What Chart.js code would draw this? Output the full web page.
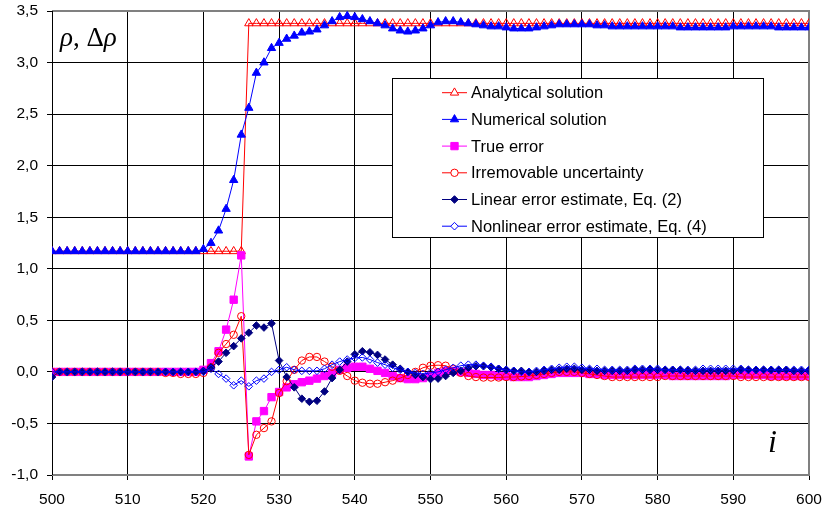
<!DOCTYPE html>
<html lang="en">
<head>
<meta charset="UTF-8">
<title>rho and error estimates</title>
<script src="https://cdn.jsdelivr.net/npm/chart.js"></script>
<style>
  body { margin: 0; background: #fff; }
  #wrap { position: relative; width: 824px; height: 511px; }
  .lbl { position: absolute; font-family: "Liberation Serif", "DejaVu Serif", serif; color: #000; line-height: 1; white-space: nowrap; }
  #ylbl { left: 60px; top: 24px; font-size: 27px; }
  #xlbl { left: 768px; top: 425px; font-size: 32px; font-style: italic; }
</style>
</head>
<body>
<div id="wrap">
  <canvas id="myChart" width="824" height="511"></canvas>
  <div class="lbl" id="ylbl"><i>ρ</i>,&nbsp;Δ<i>ρ</i></div>
  <div class="lbl" id="xlbl">i</div>
</div>

<script>
// grid index i
var iValues = [
  500, 501, 502, 503, 504, 505, 506, 507, 508, 509,
  510, 511, 512, 513, 514, 515, 516, 517, 518, 519,
  520, 521, 522, 523, 524, 525, 526, 527, 528, 529,
  530, 531, 532, 533, 534, 535, 536, 537, 538, 539,
  540, 541, 542, 543, 544, 545, 546, 547, 548, 549,
  550, 551, 552, 553, 554, 555, 556, 557, 558, 559,
  560, 561, 562, 563, 564, 565, 566, 567, 568, 569,
  570, 571, 572, 573, 574, 575, 576, 577, 578, 579,
  580, 581, 582, 583, 584, 585, 586, 587, 588, 589,
  590, 591, 592, 593, 594, 595, 596, 597, 598, 599,
  600
];

var analytical = [
  1.17, 1.17, 1.17, 1.17, 1.17, 1.17, 1.17, 1.17, 1.17, 1.17,
  1.17, 1.17, 1.17, 1.17, 1.17, 1.17, 1.17, 1.17, 1.17, 1.17,
  1.17, 1.17, 1.17, 1.17, 1.17, 1.17, 3.38, 3.38, 3.38, 3.38,
  3.38, 3.38, 3.38, 3.38, 3.38, 3.38, 3.38, 3.38, 3.38, 3.38,
  3.38, 3.38, 3.38, 3.38, 3.38, 3.38, 3.38, 3.38, 3.38, 3.38,
  3.38, 3.38, 3.38, 3.38, 3.38, 3.38, 3.38, 3.38, 3.38, 3.38,
  3.38, 3.38, 3.38, 3.38, 3.38, 3.38, 3.38, 3.38, 3.38, 3.38,
  3.38, 3.38, 3.38, 3.38, 3.38, 3.38, 3.38, 3.38, 3.38, 3.38,
  3.38, 3.38, 3.38, 3.38, 3.38, 3.38, 3.38, 3.38, 3.38, 3.38,
  3.38, 3.38, 3.38, 3.38, 3.38, 3.38, 3.38, 3.38, 3.38, 3.38,
  3.38
];

var numerical = [
  1.17, 1.17, 1.17, 1.17, 1.17, 1.17, 1.17, 1.17, 1.17, 1.17,
  1.17, 1.17, 1.17, 1.17, 1.17, 1.17, 1.17, 1.17, 1.17, 1.17,
  1.19, 1.25, 1.37, 1.58, 1.86, 2.30, 2.56, 2.90, 3.00, 3.14,
  3.19, 3.23, 3.26, 3.29, 3.30, 3.32, 3.36, 3.40, 3.44, 3.45,
  3.44, 3.42, 3.40, 3.38, 3.36, 3.33, 3.31, 3.30, 3.31, 3.33,
  3.36, 3.39, 3.40, 3.40, 3.39, 3.38, 3.37, 3.36, 3.35, 3.35,
  3.34, 3.33, 3.33, 3.33, 3.34, 3.35, 3.36, 3.37, 3.37, 3.37,
  3.37, 3.37, 3.36, 3.36, 3.35, 3.35, 3.35, 3.35, 3.35, 3.35,
  3.35, 3.35, 3.35, 3.34, 3.34, 3.34, 3.34, 3.34, 3.34, 3.34,
  3.35, 3.35, 3.35, 3.35, 3.35, 3.35, 3.34, 3.34, 3.34, 3.34,
  3.34
];

var trueError = [
  0, 0, 0, 0, 0, 0, 0, 0, 0, 0,
  0, 0, 0, 0, 0, 0, 0, 0, 0, 0,
  0.02, 0.085, 0.20, 0.41, 0.70, 1.13, -0.82, -0.48, -0.38, -0.245,
  -0.195, -0.15, -0.12, -0.10, -0.085, -0.065, -0.04, -0.01, 0.02, 0.04,
  0.05, 0.05, 0.03, 0.01, -0.01, -0.04, -0.06, -0.07, -0.07, -0.06,
  -0.04, -0.01, 0.01, 0.01, 0, -0.01, -0.02, -0.03, -0.03, -0.04,
  -0.04, -0.05, -0.05, -0.05, -0.04, -0.03, -0.02, -0.01, -0.01, -0.01,
  -0.01, -0.02, -0.02, -0.03, -0.03, -0.03, -0.03, -0.03, -0.03, -0.03,
  -0.03, -0.03, -0.04, -0.04, -0.04, -0.04, -0.04, -0.04, -0.04, -0.04,
  -0.03, -0.03, -0.03, -0.03, -0.03, -0.04, -0.04, -0.04, -0.04, -0.04,
  -0.04
];

var irremovable = [
  0, 0, 0, 0, 0, 0, 0, 0, 0, 0,
  0, 0, 0, 0, 0, -0.01, -0.01, -0.02, -0.02, -0.02,
  -0.01, 0.045, 0.185, 0.27, 0.36, 0.54, -0.805, -0.61, -0.545, -0.48,
  -0.205, -0.09, 0.02, 0.11, 0.145, 0.145, 0.10, 0.05, 0.01, -0.04,
  -0.085, -0.105, -0.115, -0.115, -0.10, -0.085, -0.06, -0.03, 0, 0.04,
  0.06, 0.065, 0.06, 0.03, -0.01, -0.04, -0.05, -0.055, -0.055, -0.055,
  -0.05, -0.05, -0.045, -0.04, -0.03, -0.02, -0.01, 0, 0, 0,
  -0.01, -0.02, -0.03, -0.04, -0.05, -0.05, -0.05, -0.05, -0.05, -0.05,
  -0.05, -0.04, -0.04, -0.04, -0.04, -0.04, -0.04, -0.04, -0.04, -0.04,
  -0.04, -0.05, -0.05, -0.05, -0.05, -0.05, -0.05, -0.05, -0.05, -0.05,
  -0.05
];

var linearEst = [
  -0.05, 0, 0, 0, 0, 0, 0, 0, 0, 0,
  0, 0, 0, 0, 0, 0, 0, 0, 0, 0,
  0.01, 0.045, 0.10, 0.185, 0.25, 0.325, 0.38, 0.45, 0.43, 0.47,
  0.11, -0.05, -0.15, -0.26, -0.29, -0.28, -0.19, -0.06, 0.02, 0.10,
  0.17, 0.20, 0.19, 0.165, 0.12, 0.07, 0.03, 0, -0.03, -0.05,
  -0.07, -0.065, -0.04, -0.01, 0.01, 0.04, 0.055, 0.055, 0.045, 0.03,
  0.02, 0.01, 0.01, 0, 0, 0.01, 0.02, 0.02, 0.03, 0.03,
  0.02, 0.02, 0.01, 0.01, 0.01, 0.01, 0.01, 0.02, 0.02, 0.02,
  0.02, 0.02, 0.02, 0.02, 0.01, 0.01, 0.01, 0.01, 0.01, 0.01,
  0.01, 0.02, 0.02, 0.02, 0.02, 0.02, 0.02, 0.02, 0.01, 0.01,
  0.01
];

var nonlinearEst = [
  0, 0, 0, 0, 0, 0, 0, 0, 0, 0,
  0, 0, 0, 0, 0, 0, 0, 0, 0, 0,
  0, 0.03, -0.02, -0.065, -0.13, -0.085, -0.14, -0.085, -0.065, 0,
  0.02, 0.045, 0.02, 0.01, 0.01, 0.01, 0.03, 0.07, 0.10, 0.12,
  0.135, 0.14, 0.12, 0.09, 0.07, 0.04, 0.02, 0, -0.01, -0.02,
  -0.01, 0, 0.02, 0.04, 0.06, 0.07, 0.07, 0.06, 0.05, 0.03,
  0.02, 0.01, 0, 0, 0.01, 0.02, 0.03, 0.04, 0.05, 0.05,
  0.04, 0.03, 0.03, 0.02, 0.02, 0.02, 0.02, 0.03, 0.03, 0.03,
  0.03, 0.02, 0.02, 0.02, 0.02, 0.02, 0.03, 0.03, 0.03, 0.03,
  0.03, 0.03, 0.02, 0.02, 0.02, 0.02, 0.02, 0.02, 0.02, 0.02,
  0.02
];

var seriesNames = [
  'Analytical solution',
  'Numerical solution',
  'True error',
  'Irremovable uncertainty',
  'Linear error estimate, Eq. (2)',
  'Nonlinear error estimate, Eq. (4)'
];

var xTicks = { min: 500, max: 600, step: 10 };
var yTicks = { min: -1.0, max: 3.5, step: 0.5 };

function toPoints(ys) {
  return ys.map(function (y, k) { return { x: iValues[k], y: y }; });
}

var seriesStyle = [
  { data: analytical,   color: '#FF0000', fill: 'rgba(0,0,0,0)', shape: 'triangle', r: 4.8 },
  { data: numerical,    color: '#0000FF', fill: '#0000FF',       shape: 'triangle', r: 4.8 },
  { data: trueError,    color: '#FF00FF', fill: '#FF00FF',       shape: 'rect',     r: 5.2 },
  { data: irremovable,  color: '#FF0000', fill: 'rgba(0,0,0,0)', shape: 'circle',   r: 3.7 },
  { data: linearEst,    color: '#000080', fill: '#000080',       shape: 'rectRot',  r: 3.8 },
  { data: nonlinearEst, color: '#0000FF', fill: 'rgba(0,0,0,0)', shape: 'rectRot',  r: 3.8 }
];

var datasets = seriesStyle.map(function (s, k) {
  return {
    label: seriesNames[k],
    data: toPoints(s.data),
    borderColor: s.color,
    borderWidth: 1,
    pointStyle: s.shape,
    pointRadius: s.r,
    pointHoverRadius: s.r,
    pointBorderColor: s.color,
    pointBackgroundColor: s.fill,
    pointBorderWidth: 1,
    tension: 0,
    order: 6 - k   // later series sit on top, like Excel
  };
});

function drawMarker(ctx, shape, r, x, y, fill, stroke) {
  ctx.beginPath();
  if (shape === 'triangle') {
    ctx.moveTo(x, y - r);
    ctx.lineTo(x + r * 0.866, y + r / 2);
    ctx.lineTo(x - r * 0.866, y + r / 2);
    ctx.closePath();
  } else if (shape === 'rect') {
    var s = r * Math.SQRT1_2;
    ctx.rect(x - s, y - s, 2 * s, 2 * s);
  } else if (shape === 'rectRot') {
    ctx.moveTo(x, y - r); ctx.lineTo(x + r, y); ctx.lineTo(x, y + r); ctx.lineTo(x - r, y);
    ctx.closePath();
  } else {
    ctx.arc(x, y, r, 0, Math.PI * 2);
  }
  ctx.fillStyle = fill;
  ctx.fill();
  ctx.strokeStyle = stroke;
  ctx.lineWidth = 1;
  ctx.stroke();
}

// gray frame round the plot area
var framePlugin = {
  id: 'frame',
  beforeDatasetsDraw: function (chart) {
    var a = chart.chartArea, ctx = chart.ctx;
    ctx.save();
    ctx.strokeStyle = '#808080';
    ctx.lineWidth = 2;
    ctx.beginPath();
    ctx.moveTo(a.left, a.top); ctx.lineTo(a.right, a.top);
    ctx.lineTo(a.right, a.bottom); ctx.lineTo(a.left, a.bottom);
    ctx.stroke();
    ctx.strokeStyle = '#000';
    ctx.lineWidth = 1;
    ctx.beginPath();
    ctx.moveTo(Math.round(a.left) + 0.5, a.top); ctx.lineTo(Math.round(a.left) + 0.5, a.bottom);
    ctx.stroke();
    ctx.restore();
  }
};

// boxed legend inside the plot
var boxLegend = {
  id: 'boxLegend',
  afterDraw: function (chart) {
    var ctx = chart.ctx;
    var bx = 392.5, by = 78.5, bw = 371, bh = 159;
    ctx.save();
    ctx.fillStyle = '#fff';
    ctx.fillRect(bx, by, bw, bh);
    ctx.strokeStyle = '#000';
    ctx.lineWidth = 1;
    ctx.strokeRect(bx, by, bw, bh);
    ctx.font = '16.5px "Liberation Sans", Arial, sans-serif';
    ctx.textBaseline = 'middle';
    ctx.textAlign = 'left';
    seriesStyle.forEach(function (s, k) {
      var y = 92.7 + k * 26.7;
      ctx.strokeStyle = s.color;
      ctx.lineWidth = 1;
      ctx.beginPath();
      ctx.moveTo(442, y); ctx.lineTo(467, y);
      ctx.stroke();
      drawMarker(ctx, s.shape, s.r, 454.5, y, s.fill === 'rgba(0,0,0,0)' ? '#fff' : s.fill, s.color);
      ctx.fillStyle = '#000';
      ctx.fillText(seriesNames[k], 471, y + 1);
    });
    ctx.restore();
  }
};

Chart.defaults.color = '#000';
Chart.defaults.font.family = '"Liberation Sans", Arial, sans-serif';

var ctx = document.getElementById('myChart').getContext('2d');
var myChart = new Chart(ctx, {
  type: 'line',
  data: { datasets: datasets },
  options: {
    responsive: false,
    animation: false,
    devicePixelRatio: 1,
    layout: { autoPadding: false, padding: { top: 11, right: 15, left: 0, bottom: 0 } },
    plugins: {
      legend: { display: false },
      tooltip: { enabled: false }
    },
    scales: {
      x: {
        type: 'linear',
        min: xTicks.min,
        max: xTicks.max,
        afterFit: function (scale) { scale.height = 36; scale.paddingLeft = 0; scale.paddingRight = 0; },
        ticks: {
          stepSize: xTicks.step,
          padding: 10,
          maxRotation: 0,
          font: { size: 15.5 },
          color: '#000'
        },
        grid: { color: '#000', lineWidth: 1, tickLength: 5 },
        border: { color: '#808080', width: 1 }
      },
      y: {
        type: 'linear',
        min: yTicks.min,
        max: yTicks.max,
        afterFit: function (scale) { scale.width = 52; scale.paddingTop = 0; scale.paddingBottom = 0; },
        ticks: {
          stepSize: yTicks.step,
          padding: 9,
          font: { size: 15.5 },
          color: '#000',
          callback: function (v) { return v.toFixed(1).replace('.', ','); }
        },
        grid: { color: '#000', lineWidth: 1, tickLength: 5 },
        border: { color: '#000', width: 1 }
      }
    }
  },
  plugins: [framePlugin, boxLegend]
});
</script>
</body>
</html>
